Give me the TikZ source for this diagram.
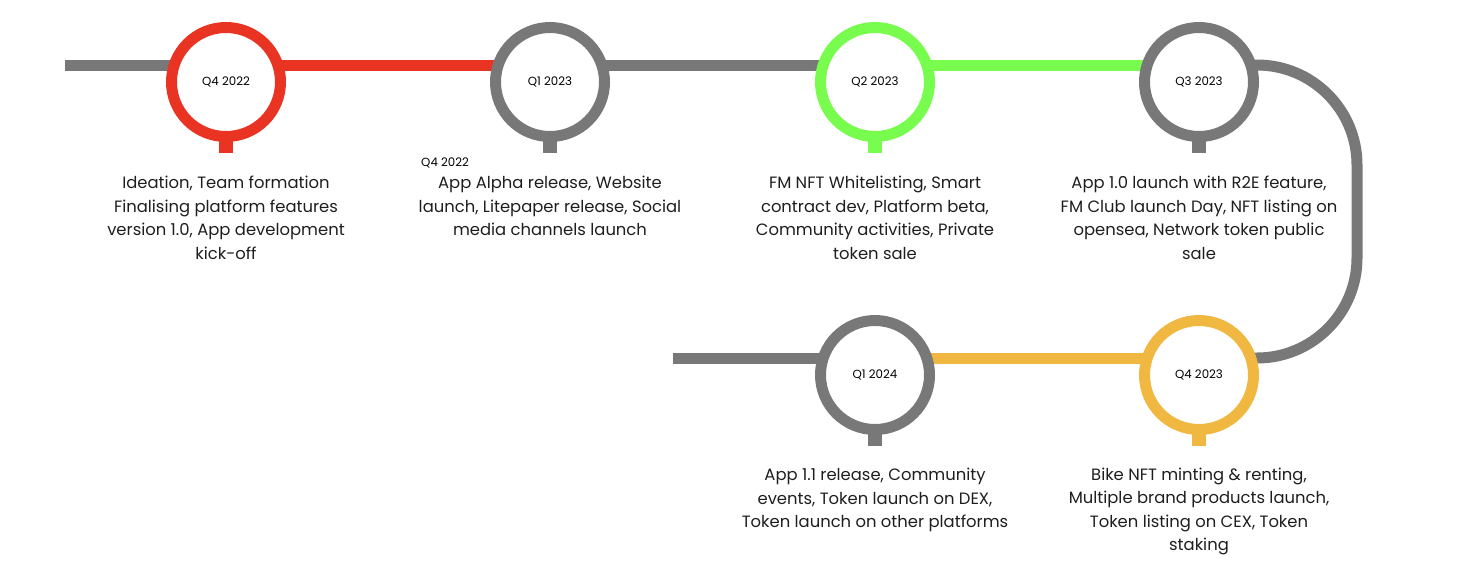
\documentclass[tikz,border=0pt]{standalone}
\usepackage{fontspec}
\setmainfont{Poppins}
\definecolor{tred}{RGB}{233,52,36}
\definecolor{tgray}{RGB}{120,120,120}
\definecolor{tgreen}{RGB}{120,252,78}
\definecolor{tyel}{RGB}{240,184,64}
\definecolor{ttext}{RGB}{30,30,30}
\begin{document}
\begin{tikzpicture}[x=1pt,y=-1pt,
  track/.style={line width=11pt},
  ring/.style={circle,draw=#1,line width=11pt,fill=white,minimum size=109pt,inner sep=0pt,
    font=\fontsize{11.8}{13}\selectfont,text=black},
  desc/.style={align=center,font=\fontsize{16.4}{23.5}\selectfont,text=ttext,inner sep=0pt},
  small/.style={font=\fontsize{11.8}{13}\selectfont,text=black,inner sep=0pt}]
\useasboundingbox (0,0) rectangle (1477,582);
% coordinates
\coordinate (s) at (65,65);
\coordinate (tr) at (1357,65);
\coordinate (br) at (1357,358);
\coordinate (e) at (673,358);
% circle positions
\path (226,82) coordinate (p1) (550,82) coordinate (p2) (875,82) coordinate (p3)
      (1199,82) coordinate (p4) (1199,375) coordinate (p6) (875,375) coordinate (p5);
% tracks
\draw[track,tgray] (s) -- ([yshift=17pt]p1);
\draw[track,tred] ([yshift=17pt]p1) -- ([yshift=17pt]p2);
\draw[track,tgray] ([yshift=17pt]p2) -- ([yshift=17pt]p3);
\draw[track,tgreen] ([yshift=17pt]p3) -- ([yshift=17pt]p4);
\draw[track,tgray,rounded corners=100pt] ([yshift=17pt]p4) -- (tr) -- (br) -- ([yshift=17pt]p6);
\draw[track,tyel] ([yshift=17pt]p6) -- ([yshift=17pt]p5);
\draw[track,tgray] ([yshift=17pt]p5) -- (e);
% stems
\foreach \p/\c in {p1/tred,p2/tgray,p3/tgreen,p4/tgray,p5/tgray,p6/tyel}{
  \fill[\c] ([xshift=-7pt,yshift=-56pt]\p) rectangle ([xshift=7pt,yshift=-71pt]\p);
}
% circles
\node[ring=tred] (c1) at (p1) {Q4 2022};
\node[ring=tgray] (c2) at (p2) {Q1 2023};
\node[ring=tgreen] (c3) at (p3) {Q2 2023};
\node[ring=tgray] (c4) at (p4) {Q3 2023};
\node[ring=tgray] (c5) at (p5) {Q1 2024};
\node[ring=tyel] (c6) at (p6) {Q4 2023};
% descriptions
\node[desc] (d1) at (226,218) {Ideation, Team formation\\Finalising platform features\\version 1.0, App development\\kick-off};
\node[small,anchor=west] (q) at (421,163) {Q4 2022};
\node[desc] (d2) at (550,206) {App Alpha release, Website\\launch, Litepaper release, Social\\media channels launch};
\node[desc] (d3) at (875,218) {FM NFT Whitelisting, Smart\\contract dev, Platform beta,\\Community activities, Private\\token sale};
\node[desc] (d4) at (1199,218) {App 1.0 launch with R2E feature,\\FM Club launch Day, NFT listing on\\opensea, Network token public\\sale};
\node[desc] (d5) at (875,500) {App 1.1 release, Community\\events, Token launch on DEX,\\Token launch on other platforms};
\node[desc] (d6) at (1199,511.5) {Bike NFT minting \& renting,\\Multiple brand products launch,\\Token listing on CEX, Token\\staking};
\end{tikzpicture}
\end{document}
